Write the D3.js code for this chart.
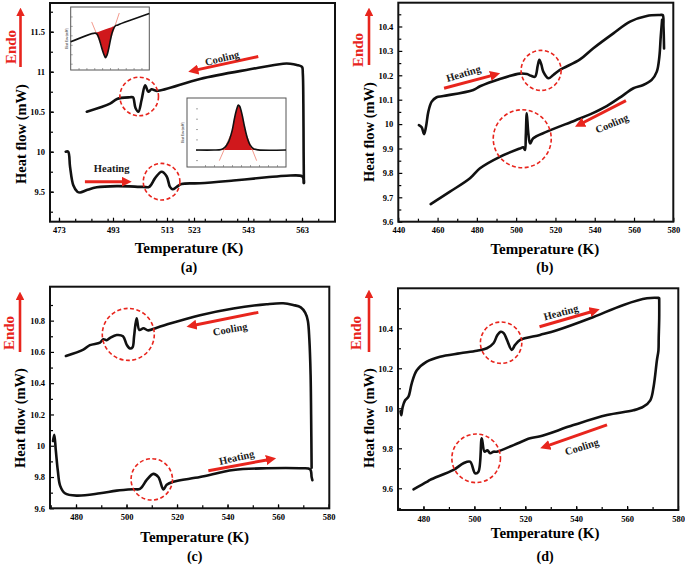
<!DOCTYPE html>
<html>
<head>
<meta charset="utf-8">
<script src="https://cdn.jsdelivr.net/npm/d3@7"></script>
<style>
body { margin: 0; background: #fff; }
text { font-family: "Liberation Serif", "Times New Roman", serif; font-weight: bold; }
</style>
</head>
<body>
<div id="chart"></div>
<script>
// curves as [temperature (K), heat flow (mW)]
// (a)
const heatA = [[475.5,10.0],[476.4,10.0],[477.1,9.81],[478.3,9.58],[479.8,9.5],[480.8,9.49],[483.3,9.52],[487.0,9.555],[494.4,9.57],[504.2,9.56],[506.4,9.56],[508.6,9.67],[511.0,9.75],[512.9,9.69],[514.1,9.56],[515.1,9.53],[516.6,9.56],[518.4,9.596],[525.2,9.605],[537.6,9.64],[549.9,9.68],[557.3,9.70],[562.9,9.696],[563.5,9.67],[563.7,9.61]]
const coolA = [[563.7,9.61],[563.6,10.0],[563.5,10.6],[563.3,10.98],[563.0,11.06],[561.1,11.085],[558.6,11.1],[556.0,11.1],[543.7,11.03],[525.2,10.91],[509.2,10.76],[507.3,10.78],[506.1,10.75],[504.9,10.83],[503.6,10.65],[502.4,10.5],[501.3,10.55],[500.4,10.68],[499.3,10.68],[494.5,10.66],[491.9,10.6],[483.3,10.5]]
const circlesA = [[502.7,10.69],[511.0,9.625]]
const arrowsA = [[[546.8,11.19],[520.9,11.0]],[[482.6,9.625],[499.9,9.625]]]
const labelsA = [['Cooling',533.4,11.17],['Heating',492.5,9.79]]
const xTicksA = [473,493,513,523,543,563]
const yTicksA = [9.5,10,10.5,11,11.5]

// (b)
const heatB = [[450.5,9.996],[451.9,9.987],[453.1,9.959],[454.1,9.989],[455.3,10.051],[457.0,10.092],[459.5,10.11],[462.9,10.115],[478.2,10.14],[481.6,10.155],[491.7,10.185],[501.9,10.207],[505.5,10.205],[507.6,10.198],[509.6,10.194],[511.0,10.24],[511.8,10.263],[512.8,10.245],[513.8,10.215],[516.4,10.188],[518.9,10.201],[522.3,10.222],[532.5,10.265],[539.3,10.311],[549.5,10.372],[558.0,10.42],[566.5,10.443],[573.2,10.447],[574.6,10.447],[575.0,10.40],[575.3,10.31]]
const coolB = [[574.3,10.427],[573.6,10.358],[572.9,10.276],[571.6,10.215],[569.0,10.181],[564.7,10.16],[559.7,10.147],[554.6,10.119],[546.1,10.074],[537.6,10.04],[530.0,10.015],[515.6,9.969],[508.7,9.942],[507.1,9.921],[506.2,9.962],[505.4,10.044],[504.9,9.95],[504.5,9.894],[503.6,9.905],[501.9,9.90],[491.7,9.866],[481.6,9.819],[476.5,9.778],[466.3,9.723],[456.5,9.672]]
const circlesB = [[512.7,10.22],[503.1,9.94]]
const arrowsB = [[[463.3,10.147],[491.8,10.208]],[[555.9,10.096],[530.0,9.989]]]
const labelsB = [['Heating',473.1,10.208],['Cooling',548.7,10.003]]
const xTicksB = [440,460,480,500,520,540,560,580]
const yTicksB = [9.6,9.7,9.8,9.9,10,10.1,10.2,10.3,10.4]

// (c)
const heatC = [[470.9,10.03],[471.4,10.07],[472.0,9.97],[472.8,9.84],[473.7,9.745],[475.6,9.696],[480.3,9.681],[489.5,9.696],[496.1,9.713],[502.7,9.722],[505.3,9.724],[508.0,9.781],[510.6,9.82],[512.6,9.80],[514.6,9.72],[515.9,9.75],[518.5,9.77],[529.1,9.80],[542.3,9.845],[555.5,9.856],[568.7,9.856],[572.7,9.85],[573.3,9.80],[573.6,9.78]]
const coolC = [[573.3,9.86],[573.1,10.2],[572.9,10.45],[572.4,10.68],[571.8,10.80],[570.8,10.85],[569.0,10.885],[566.0,10.90],[562.0,10.911],[555.5,10.905],[542.3,10.878],[529.1,10.835],[515.9,10.775],[512.0,10.755],[508.6,10.738],[506.7,10.751],[505.1,10.74],[504.0,10.815],[503.0,10.70],[502.4,10.63],[501.4,10.622],[500.1,10.645],[498.6,10.70],[496.1,10.708],[493.5,10.69],[492.1,10.675],[490.8,10.681],[489.5,10.66],[485.5,10.643],[482.9,10.615],[476.0,10.574]]
const circlesC = [[500.7,10.712],[510.0,9.785]]
const arrowsC = [[[552.2,10.853],[523.8,10.761]],[[532.4,9.840],[559.2,9.92]]]
const labelsC = [['Cooling',541.0,10.746],['Heating',543.6,9.926]]
const xTicksC = [480,500,520,540,560,580]
const yTicksC = [9.6,9.8,10,10.2,10.4,10.6,10.8]

// (d)
const heatD = [[471.0,9.985],[471.3,9.965],[471.8,10.005],[472.8,10.04],[474.1,10.058],[475.4,10.125],[477.4,10.19],[481.3,10.233],[486.5,10.258],[494.4,10.275],[501.0,10.288],[504.9,10.30],[507.5,10.325],[509.0,10.365],[510.4,10.383],[511.6,10.375],[512.8,10.342],[514.7,10.292],[516.0,10.317],[518.0,10.342],[525.8,10.367],[532.4,10.39],[545.5,10.45],[558.6,10.517],[567.8,10.55],[572.3,10.552]]
const coolD = [[572.6,10.55],[572.6,10.45],[572.4,10.35],[572.3,10.29],[571.7,10.24],[570.4,10.108],[569.1,10.04],[566.4,10.008],[562.5,9.99],[552.1,9.966],[538.9,9.916],[525.9,9.86],[521.9,9.85],[515.4,9.816],[508.8,9.783],[507.5,9.783],[506.2,9.775],[505.1,9.79],[504.0,9.783],[502.9,9.85],[501.6,9.683],[500.3,9.675],[498.3,9.733],[495.7,9.725],[491.8,9.692],[482.6,9.642],[481.3,9.632],[476.1,9.595]]
const circlesD = [[510.5,10.328],[500.7,9.75]]
const arrowsD = [[[525.6,10.408],[549.2,10.495]],[[552.1,9.917],[525.9,9.80]]]
const labelsD = [['Heating',534.0,10.48],['Cooling',542.2,9.808]]
const xTicksD = [480,500,520,540,560,580]
const yTicksD = [9.6,9.8,10,10.2,10.4]

// insets of (a), arbitrary 0-100 units
const insetDip = [[0,44.7],[31,58.6],[33.5,57],[36,50],[38.5,39.5],[41,29],[42.6,23.7],[44.3,19.7],[46.2,23.7],[48,32],[50,44.2],[52,56],[53.8,63.2],[56.4,69.5],[60,71.6],[100,89.6]]
const insetDipTangents = [[[26.7,76.3],[38,42]],[[61.8,90.5],[51,50]]]
const insetPeak = [[0,24.6],[20,24.6],[28,25.5],[32,28.5],[36,36],[40,52],[43,72],[45.5,85],[47,89.9],[48.5,88],[51,77],[54,58],[57,42],[60,32],[64,26.5],[69,24.8],[100,24.6]]
const insetPeakTangents = [[[25.9,9.1],[38,45]],[[67.4,9.1],[55.5,48]]]

const red = '#e8251d'

let svg = d3.select('#chart')
    .append('svg')
        .attr('width', 685)
        .attr('height', 569)

svg.append('defs').append('marker')
    .attr('id', 'head')
    .attr('viewBox', '0 0 10 10')
    .attr('refX', 5)
    .attr('refY', 5)
    .attr('markerWidth', 3.4)
    .attr('markerHeight', 3.4)
    .attr('orient', 'auto')
    .append('path')
        .attr('d', 'M0,0L10,5L0,10z')
        .attr('fill', red)

//red arrow that stops its shaft under the head
function arrow(g, x1, y1, x2, y2, width){
    let len = Math.hypot(x2 - x1, y2 - y1)
    let k = (len - 5) / len
    g.append('line')
        .attr('x1', x1).attr('y1', y1)
        .attr('x2', x1 + (x2 - x1) * k).attr('y2', y1 + (y2 - y1) * k)
        .attr('stroke', red)
        .attr('stroke-width', width)
        .attr('marker-end', 'url(#head)')
}

function drawPanel(p){
    let x = d3.scaleLinear().domain(p.xDomain).range([p.left, p.right])
    let y = d3.scaleLinear().domain(p.yDomain).range([p.bottom, p.top])
    let g = svg.append('g')

    //inward ticks on the bottom and left edges
    let axes = [
        [d3.axisBottom(x).tickValues(p.xMinor).tickFormat('').tickSizeInner(-3), `translate(0,${p.bottom})`],
        [d3.axisBottom(x).tickValues(p.xTicks).tickFormat(d => d).tickSizeInner(-4).tickPadding(5.5), `translate(0,${p.bottom})`],
        [d3.axisLeft(y).tickValues(p.yMinor).tickFormat('').tickSizeInner(-3), `translate(${p.left},0)`],
        [d3.axisLeft(y).tickValues(p.yTicks).tickFormat(d => d).tickSizeInner(-4).tickPadding(5), `translate(${p.left},0)`]
    ]
    axes.forEach(([ax, tr]) => {
        let a = g.append('g')
            .attr('transform', tr)
            .call(ax.tickSizeOuter(0))
            .attr('font-size', 8.5)
        a.select('.domain').remove()
        a.selectAll('line').attr('stroke-width', 1.2)
    })

    g.append('rect')
        .attr('x', p.left)
        .attr('y', p.top)
        .attr('width', p.right - p.left)
        .attr('height', p.bottom - p.top)
        .attr('fill', 'none')
        .attr('stroke', '#111')
        .attr('stroke-width', 2)

    if (p.insets) p.insets(g)

    let line = d3.line()
        .x(d => x(d[0]))
        .y(d => y(d[1]))
        .curve(d3.curveCatmullRom.alpha(0.5))

    g.selectAll('path.curve')
        .data([p.heat, p.cool])
        .join('path')
            .attr('class', 'curve')
            .attr('d', line)
            .attr('fill', 'none')
            .attr('stroke', '#111')
            .attr('stroke-width', 2.6)
            .attr('stroke-linejoin', 'round')
            .attr('stroke-linecap', 'round')

    g.selectAll('circle.ring')
        .data(p.circles)
        .join('circle')
            .attr('class', 'ring')
            .attr('cx', d => x(d[0]))
            .attr('cy', d => y(d[1]))
            .attr('r', (d, i) => p.ringR[i])
            .attr('fill', 'none')
            .attr('stroke', red)
            .attr('stroke-width', 1.6)
            .attr('stroke-dasharray', '4,2.5')

    p.arrows.forEach(a => arrow(g, x(a[0][0]), y(a[0][1]), x(a[1][0]), y(a[1][1]), 3))

    g.selectAll('text.note')
        .data(p.labels)
        .join('text')
            .attr('class', 'note')
            .attr('transform', (d, i) => `translate(${x(d[1])},${y(d[2])}) rotate(${p.labelAngle[i]})`)
            .attr('text-anchor', 'middle')
            .attr('dy', '0.35em')
            .style('font-size', '10.5px')
            .style('fill', '#1a1a1a')
            .text(d => d[0])

    //axis titles, Endo marker and panel tag
    g.append('text')
        .attr('x', (p.left + p.right) / 2 + p.xTitleShift)
        .attr('y', p.xTitleY)
        .attr('text-anchor', 'middle')
        .style('font-size', '15px')
        .text('Temperature (K)')

    g.append('text')
        .attr('transform', `translate(${p.yTitleX},${p.yTitleY}) rotate(-90)`)
        .attr('text-anchor', 'middle')
        .attr('dy', '0.35em')
        .style('font-size', '14.5px')
        .text('Heat flow (mW)')

    g.append('text')
        .attr('x', (p.left + p.right) / 2 + p.xTitleShift)
        .attr('y', p.tagY)
        .attr('text-anchor', 'middle')
        .style('font-size', '14px')
        .text(p.tag)

    arrow(g, p.yTitleX, p.endoBottom, p.yTitleX, p.endoTop, 2.6)

    g.append('text')
        .attr('transform', `translate(${p.endoX},${p.endoY}) rotate(-90)`)
        .attr('text-anchor', 'middle')
        .attr('dy', '0.35em')
        .style('font-size', '15px')
        .style('fill', red)
        .text('Endo')
}

//small DSC insets inside panel (a)
function drawInset(g, box, curve, tangents, fillFrom, fillTo){
    let x = d3.scaleLinear().domain([0, 100]).range([box.left, box.right])
    let y = d3.scaleLinear().domain([0, 100]).range([box.bottom, box.top])

    g.append('rect')
        .attr('x', box.boxLeft)
        .attr('y', box.top)
        .attr('width', box.right - box.boxLeft)
        .attr('height', box.bottom - box.top)
        .attr('fill', '#fff')
        .attr('stroke', '#555')
        .attr('stroke-width', 1)

    let tx = g.append('g')
        .attr('transform', `translate(0,${box.bottom})`)
        .call(d3.axisBottom(x).tickValues([10,20,30,40,50,60,70,80,90]).tickFormat('').tickSizeInner(-2).tickSizeOuter(0))
    let ty = g.append('g')
        .attr('transform', `translate(${box.left},0)`)
        .call(d3.axisLeft(y).tickValues([10,25,40,55,70,85]).tickFormat('').tickSizeInner(-2).tickSizeOuter(0))
    ;[tx, ty].forEach(a => {
        a.select('.domain').remove()
        a.selectAll('line').attr('stroke', '#666').attr('stroke-width', 0.6)
    })

    g.append('text')
        .attr('transform', `translate(${box.boxLeft - 3},${(box.top + box.bottom) / 2}) rotate(-90)`)
        .attr('text-anchor', 'middle')
        .style('font-size', '3px')
        .style('fill', '#555')
        .text('Heat flow (mW)')

    //baseline between the first and last point of the trace
    let first = curve[0], last = curve[curve.length - 1]
    let base = d3.scaleLinear().domain([first[0], last[0]]).range([first[1], last[1]])
    let inPeak = curve.filter(d => d[0] >= fillFrom && d[0] <= fillTo)

    g.append('path')
        .attr('d', d3.area()
            .x(d => x(d[0]))
            .y0(d => y(base(d[0])))
            .y1(d => y(d[1]))
            .curve(d3.curveCatmullRom.alpha(0.5))(inPeak))
        .attr('fill', '#d0181c')

    tangents.forEach(t => {
        g.append('line')
            .attr('x1', x(t[0][0])).attr('y1', y(t[0][1]))
            .attr('x2', x(t[1][0])).attr('y2', y(t[1][1]))
            .attr('stroke', '#f08070')
            .attr('stroke-width', 0.8)
    })

    g.append('path')
        .attr('d', d3.line()
            .x(d => x(d[0]))
            .y(d => y(d[1]))
            .curve(d3.curveCatmullRom.alpha(0.5))(curve))
        .attr('fill', 'none')
        .attr('stroke', '#111')
        .attr('stroke-width', 1.6)
}

drawPanel({
    left: 50, right: 335, top: 3, bottom: 221.7,
    xDomain: [469.67, 575.22], yDomain: [9.125, 11.859],
    xTicks: xTicksA, xMinor: d3.range(473, 575, 6),
    yTicks: yTicksA, yMinor: d3.range(9.25, 11.8, 0.25),
    heat: heatA, cool: coolA,
    circles: circlesA, ringR: [19.3, 18.3],
    arrows: arrowsA, labels: labelsA, labelAngle: [-14, 0],
    xTitleShift: -3.5, xTitleY: 253, tagY: 272,
    yTitleX: 20.5, yTitleY: 134,
    endoX: 11, endoY: 47, endoTop: 7, endoBottom: 67, tag: '(a)',
    insets: g => {
        drawInset(g, {left: 70.7, boxLeft: 70.7, right: 149.3, top: 7, bottom: 70}, insetDip, insetDipTangents, 31, 56.4)
        drawInset(g, {left: 196, boxLeft: 187, right: 286, top: 98, bottom: 167}, insetPeak, insetPeakTangents, 28, 69)
    }
})

drawPanel({
    left: 398.3, right: 673.3, top: 2.7, bottom: 221.7,
    xDomain: [440, 580], yDomain: [9.6, 10.4975],
    xTicks: xTicksB, xMinor: d3.range(450, 580, 20),
    yTicks: yTicksB, yMinor: d3.range(9.65, 10.5, 0.1),
    heat: heatB, cool: coolB,
    circles: circlesB, ringR: [20, 29],
    arrows: arrowsB, labels: labelsB, labelAngle: [-17, -23],
    xTitleShift: 9, xTitleY: 254, tagY: 272,
    yTitleX: 369, yTitleY: 132,
    endoX: 357.5, endoY: 50, endoTop: 7, endoBottom: 65, tag: '(b)'
})

drawPanel({
    left: 50, right: 329.3, top: 286.7, bottom: 508.3,
    xDomain: [469.7, 580.3], yDomain: [9.6, 11.017],
    xTicks: xTicksC, xMinor: d3.range(470, 580, 10),
    yTicks: yTicksC, yMinor: d3.range(9.7, 11, 0.2),
    heat: heatC, cool: coolC,
    circles: circlesC, ringR: [26, 20.7],
    arrows: arrowsC, labels: labelsC, labelAngle: [-10, -13],
    xTitleShift: 5, xTitleY: 541.5, tagY: 561,
    yTitleX: 20, yTitleY: 418,
    endoX: 8.5, endoY: 333, endoTop: 291, endoBottom: 352, tag: '(c)'
})

drawPanel({
    left: 398, right: 678.3, top: 288.3, bottom: 510,
    xDomain: [470, 580.1], yDomain: [9.4915, 10.6],
    xTicks: xTicksD, xMinor: d3.range(470, 580, 10),
    yTicks: yTicksD, yMinor: d3.range(9.5, 10.6, 0.2),
    heat: heatD, cool: coolD,
    circles: circlesD, ringR: [20.7, 24.3],
    arrows: arrowsD, labels: labelsD, labelAngle: [-15, -18],
    xTitleShift: 7, xTitleY: 537.5, tagY: 561,
    yTitleX: 369, yTitleY: 418,
    endoX: 356, endoY: 333, endoTop: 289, endoBottom: 352, tag: '(d)'
})
</script>
</body>
</html>
